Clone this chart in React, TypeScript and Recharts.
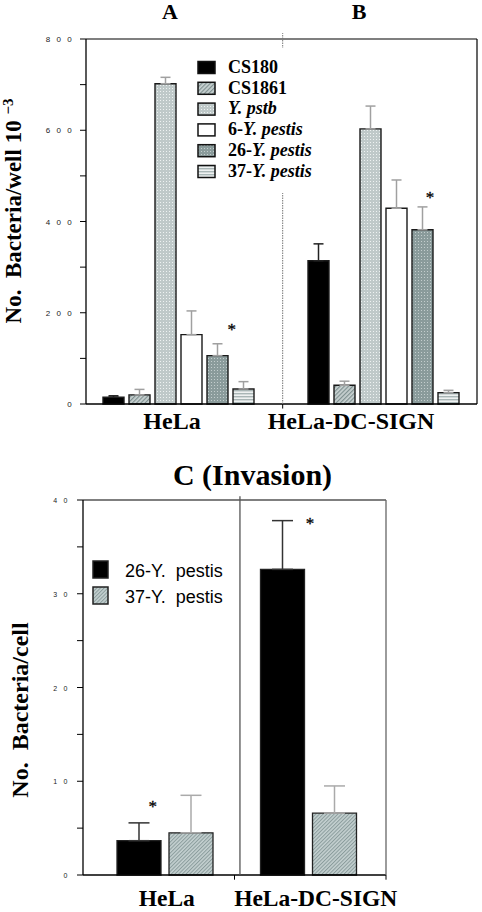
import React from 'react';
import { BarChart, Bar, XAxis, YAxis, ErrorBar, ReferenceLine, ReferenceDot, Legend } from 'recharts';

// ---------- Panel A/B (adhesion) ----------
const groupsAB = ['HeLa', 'HeLa-DC-SIGN'];
const strainsAB = ['CS180', 'CS1861', 'Y. pstb', '6-Y. pestis', '26-Y. pestis', '37-Y. pestis'];
const cs180 = [15, 314];
const cs180Err = [3, 37];
const cs1861 = [20, 41];
const cs1861Err = [12, 9];
const ypstb = [702, 603];
const ypstbErr = [14, 50];
const yp6 = [152, 429];
const yp6Err = [52, 62];
const yp26 = [106, 382];
const yp26Err = [26, 50];
const yp37 = [33, 25];
const yp37Err = [16, 5];
const yTicksAB = [0, 100, 200, 300, 400, 500, 600, 700, 800];
const starsAB = [
  { x: 0.3725, y: 168 },
  { x: 0.88, y: 456 },
];

// ---------- Panel C (invasion) ----------
const groupsC = ['HeLa', 'HeLa-DC-SIGN'];
const strainsC = ['26-Y.  pestis', '37-Y.  pestis'];
const inv26 = [3.66, 32.6];
const inv26Err = [1.9, 5.2];
const inv37 = [4.5, 6.6];
const inv37Err = [4.0, 2.9];
const yTicksC = [0, 5, 10, 15, 20, 25, 30, 35, 40];
const starsC = [
  { x: 0.23, y: 7.57 },
  { x: 0.749, y: 37.7 },
];

const valuesAB = [cs180, cs1861, ypstb, yp6, yp26, yp37];
const errsAB = [cs180Err, cs1861Err, ypstbErr, yp6Err, yp26Err, yp37Err];
const dataAB = groupsAB.map((g, i) => {
  const row: any = { group: g };
  valuesAB.forEach((arr, s) => {
    row['s' + s] = arr[i];
    row['e' + s] = [0, errsAB[s][i]];
  });
  return row;
});

const valuesC = [inv26, inv37];
const errsC = [inv26Err, inv37Err];
const dataC = groupsC.map((g, i) => {
  const row: any = { group: g };
  valuesC.forEach((arr, s) => {
    row['s' + s] = arr[i];
    row['e' + s] = [0, errsC[s][i]];
  });
  return row;
});

// ---------- styles ----------
const fillsAB = ['#000', 'url(#pCS1861)', 'url(#pYpstb)', '#fff', 'url(#p26)', 'url(#p37)'];
const errColAB = ['#222', '#a0a0a0', '#a0a0a0', '#a0a0a0', '#a0a0a0', '#a0a0a0'];
const fillsC = ['#000', 'url(#pC37)'];
const errColC = ['#333', '#aaaaaa'];
const tickDxAB = [-6.5, -32.5];
const tickDxC = [2, 7.5];
const SERIF = '"Liberation Serif", "Times New Roman", serif';
const SANS = '"Liberation Sans", Arial, sans-serif';

const Patterns = () => (
  <defs>
    <pattern id="pCS1861" width="3" height="3" patternUnits="userSpaceOnUse" patternTransform="rotate(45)">
      <rect width="3" height="3" fill="#c9d2d2" />
      <rect x="0" y="0" width="1.2" height="3" fill="#7f9090" />
    </pattern>
    <pattern id="pYpstb" width="3" height="3" patternUnits="userSpaceOnUse">
      <rect width="3" height="3" fill="#bfc9c9" />
      <rect x="1" y="1" width="1" height="1" fill="#eef2f2" />
    </pattern>
    <pattern id="p26" width="3" height="3" patternUnits="userSpaceOnUse">
      <rect width="3" height="3" fill="#8a9b9b" />
      <rect x="1" y="1" width="1" height="1" fill="#c3cdcd" />
    </pattern>
    <pattern id="p37" width="3" height="3" patternUnits="userSpaceOnUse">
      <rect width="3" height="3" fill="#eef1f1" />
      <rect x="0" y="0" width="3" height="1.4" fill="#a9b6b6" />
    </pattern>
    <pattern id="pC37" width="2.6" height="2.6" patternUnits="userSpaceOnUse" patternTransform="rotate(45)">
      <rect width="2.6" height="2.6" fill="#c4d0d0" />
      <rect x="0" y="0" width="1" height="2.6" fill="#8a9c9c" />
    </pattern>
  </defs>
);

const renderStrain = (s: string) => {
  const idx = s.indexOf('Y.');
  if (idx < 0) return s;
  return (
    <>
      {idx > 0 ? <tspan>{s.slice(0, idx)}</tspan> : null}
      <tspan fontStyle="italic">{s.slice(idx)}</tspan>
    </>
  );
};

const LegendAB = () => (
  <svg width={130} height={145} style={{ display: 'block', background: '#fff' }}>
    {strainsAB.map((s, i) => (
      <g key={s}>
        <rect x={4} y={13.5 + i * 20.8} width={17} height={12} fill={fillsAB[i]} stroke="#111" strokeWidth={1.5} />
        <text x={34} y={24.7 + i * 20.8} fontFamily={SERIF} fontWeight="bold" fontSize={18} fill="#000">
          {renderStrain(s)}
        </text>
      </g>
    ))}
  </svg>
);

const LegendC = () => (
  <svg width={140} height={60} style={{ display: 'block' }}>
    {strainsC.map((s, i) => (
      <g key={s}>
        <rect x={5} y={9 + i * 26} width={15} height={17} fill={fillsC[i]} stroke="#222" strokeWidth={1.5} />
        <text x={37} y={25.3 + i * 26} fontFamily={SANS} fontSize={18} fill="#000" style={{ whiteSpace: 'pre' }}>
          {s}
        </text>
      </g>
    ))}
  </svg>
);

const YTickAB = (props: any) => {
  const { x, y, payload } = props;
  const v = payload.value;
  if (v % 200 !== 0) return null;
  return (
    <text x={x} y={y} dy={3} textAnchor="end" fontFamily={SANS} fontSize={8} letterSpacing={6.3} fill="#222">
      {v}
    </text>
  );
};

const YTickC = (props: any) => {
  const { x, y, payload } = props;
  const v = payload.value;
  if (v % 10 !== 0) return null;
  return (
    <text x={x - 1} y={y} dy={3} textAnchor="end" fontFamily={SANS} fontSize={7} letterSpacing={6.5} fill="#222">
      {v}
    </text>
  );
};

const CatTickAB = (props: any) => {
  const { x, y, payload, index } = props;
  return (
    <text x={x + tickDxAB[index]} y={y + 17} textAnchor="middle" fontFamily={SERIF} fontWeight="bold" fontSize={24} fill="#000">
      {payload.value}
    </text>
  );
};

const CatTickC = (props: any) => {
  const { x, y, payload, index } = props;
  return (
    <text x={x + tickDxC[index]} y={y + 23} textAnchor="middle" fontFamily={SERIF} fontWeight="bold" fontSize={23.5} fill="#000">
      {payload.value}
    </text>
  );
};

const YLabelAB = () => (
  <text
    x={21}
    y={211}
    transform="rotate(-90, 21, 211)"
    textAnchor="middle"
    fontFamily={SERIF}
    fontWeight="bold"
    fontSize={23}
    fill="#000"
    style={{ whiteSpace: 'pre' }}
  >
    {'No.  Bacteria/well 10 '}
    <tspan dy={-8} fontSize={15}>
      {'\u22123'}
    </tspan>
  </text>
);

const YLabelC = () => (
  <text
    x={28}
    y={250}
    transform="rotate(-90, 28, 250)"
    textAnchor="middle"
    fontFamily={SERIF}
    fontWeight="bold"
    fontSize={24}
    fill="#000"
    style={{ whiteSpace: 'pre' }}
  >
    {'No.  Bacteria/cell'}
  </text>
);

const StarLabel = (props: any) => {
  const { viewBox } = props;
  const cx = viewBox.x + (viewBox.width || 0) / 2;
  const cy = viewBox.y + (viewBox.height || 0) / 2;
  return (
    <text x={cx} y={cy + 7.5} textAnchor="middle" fontFamily={SERIF} fontSize={17} fill="#000" style={{ fill: '#000' }} stroke="#000" strokeWidth={0.3}>
      *
    </text>
  );
};

export default function App() {
  return (
    <div style={{ position: 'absolute', left: 0, top: 0, width: 482, height: 912, background: '#fff', overflow: 'hidden' }}>
      <div style={{ position: 'absolute', left: 0, top: 0 }}>
        <BarChart width={482} height={440} data={dataAB} margin={{ top: 39, right: 5, bottom: 0, left: 46 }} barSize={21} barGap={5}>
          <Patterns />
          <XAxis xAxisId="num" type="number" domain={[0, 1]} allowDataOverflow hide />
          <XAxis xAxisId="cat" dataKey="group" height={36} interval={0} padding={{ left: -10, right: -9 }} tickLine={false} axisLine={false} tick={<CatTickAB />} />
          <YAxis yAxisId="left" width={40} domain={[0, 800]} ticks={yTicksAB} interval={0} tickSize={6} stroke="#000" tick={<YTickAB />} axisLine={false} tickLine={{ stroke: '#000' }} label={<YLabelAB />} />
          {/* frame */}
          <ReferenceLine xAxisId="num" yAxisId="left" y={0} stroke="#000" strokeWidth={1.3} />
          <ReferenceLine xAxisId="num" yAxisId="left" y={800} stroke="#000" strokeWidth={1.2} />
          <ReferenceLine xAxisId="num" yAxisId="left" x={0} stroke="#000" strokeWidth={1.3} />
          <ReferenceLine xAxisId="num" yAxisId="left" x={1} stroke="#000" strokeWidth={1.2} />
          <ReferenceLine xAxisId="num" yAxisId="left" ifOverflow="visible" segment={[{ x: 0.503, y: 0 }, { x: 0.503, y: -10 }]} stroke="#000" strokeWidth={1} />
          <ReferenceLine
            xAxisId="num"
            yAxisId="left"
            ifOverflow="visible"
            segment={[{ x: 0.503, y: 0 }, { x: 0.503, y: 813 }]}
            stroke="#777"
            strokeDasharray="1.5 1"
          />
          {strainsAB.map((s, i) => (
            <Bar
              key={s}
              name={s}
              dataKey={'s' + i}
              xAxisId="cat"
              yAxisId="left"
              fill={fillsAB[i]}
              stroke="#1a1a1a"
              strokeWidth={1.4}
              isAnimationActive={false}
            >
              <ErrorBar dataKey={'e' + i} width={5} stroke={errColAB[i]} strokeWidth={1.5} isAnimationActive={false} />
            </Bar>
          ))}
          {starsAB.map((p, i) => (
            <ReferenceDot key={i} xAxisId="num" yAxisId="left" x={p.x} y={p.y} r={0} fill="none" stroke="none" label={<StarLabel />} />
          ))}
          <Legend
            layout="vertical"
            align="center"
            verticalAlign="middle"
            content={<LegendAB />}
            wrapperStyle={{ left: 194, top: 48, width: 130, height: 145, background: '#fff' }}
          />
        </BarChart>
      </div>

      <div style={{ position: 'absolute', left: 0, top: 460 }}>
        <BarChart width={482} height={452} data={dataC} margin={{ top: 40, right: 96, bottom: 0, left: 43 }} barSize={44} barGap={8}>
          <Patterns />
          <XAxis xAxisId="num" type="number" domain={[0, 1]} allowDataOverflow hide />
          <XAxis xAxisId="cat" dataKey="group" height={37} interval={0} padding={{ left: 10, right: 6 }} tickLine={false} axisLine={false} tick={<CatTickC />} />
          <YAxis yAxisId="left" width={40} domain={[0, 40]} ticks={yTicksC} interval={0} tickSize={6} stroke="#000" tick={<YTickC />} axisLine={false} tickLine={{ stroke: '#000' }} label={<YLabelC />} />
          {/* frame */}
          <ReferenceLine xAxisId="num" yAxisId="left" y={0} stroke="#000" strokeWidth={1.3} />
          <ReferenceLine xAxisId="num" yAxisId="left" y={40} stroke="#000" strokeWidth={1.2} />
          <ReferenceLine xAxisId="num" yAxisId="left" x={0} stroke="#000" strokeWidth={1.3} />
          <ReferenceLine xAxisId="num" yAxisId="left" x={1} stroke="#666" strokeWidth={1.3} />
          <ReferenceLine xAxisId="num" yAxisId="left" ifOverflow="visible" segment={[{ x: 0.5, y: 0 }, { x: 0.5, y: -0.5 }]} stroke="#000" strokeWidth={1} />
          <ReferenceLine xAxisId="num" yAxisId="left" ifOverflow="visible" segment={[{ x: 1, y: 0 }, { x: 1, y: -0.5 }]} stroke="#000" strokeWidth={1} />
          <ReferenceLine
            xAxisId="num"
            yAxisId="left"
            ifOverflow="visible"
            segment={[{ x: 0.518, y: 0 }, { x: 0.518, y: 40.4 }]}
            stroke="#555"
            strokeWidth={1.3}
          />
          {strainsC.map((s, i) => (
            <Bar
              key={s}
              name={s}
              dataKey={'s' + i}
              xAxisId="cat"
              yAxisId="left"
              fill={fillsC[i]}
              stroke="#222"
              strokeWidth={1.3}
              isAnimationActive={false}
            >
              <ErrorBar dataKey={'e' + i} width={10.5} stroke={errColC[i]} strokeWidth={1.5} isAnimationActive={false} />
            </Bar>
          ))}
          {starsC.map((p, i) => (
            <ReferenceDot key={i} xAxisId="num" yAxisId="left" x={p.x} y={p.y} r={0} fill="none" stroke="none" label={<StarLabel />} />
          ))}
          <Legend
            layout="vertical"
            align="center"
            verticalAlign="middle"
            content={<LegendC />}
            wrapperStyle={{ left: 88, top: 92, width: 140, height: 60 }}
          />
        </BarChart>
      </div>

      <svg width={482} height={912} style={{ position: 'absolute', left: 0, top: 0, pointerEvents: 'none' }}>
        <text x={170} y={19} textAnchor="middle" fontFamily={SERIF} fontWeight="bold" fontSize={22} fill="#000">A</text>
        <text x={359} y={19} textAnchor="middle" fontFamily={SERIF} fontWeight="bold" fontSize={22} fill="#000">B</text>
        <text x={252.5} y={485} textAnchor="middle" fontFamily={SERIF} fontWeight="bold" fontSize={30} fill="#000">C (Invasion)</text>
      </svg>
    </div>
  );
}
